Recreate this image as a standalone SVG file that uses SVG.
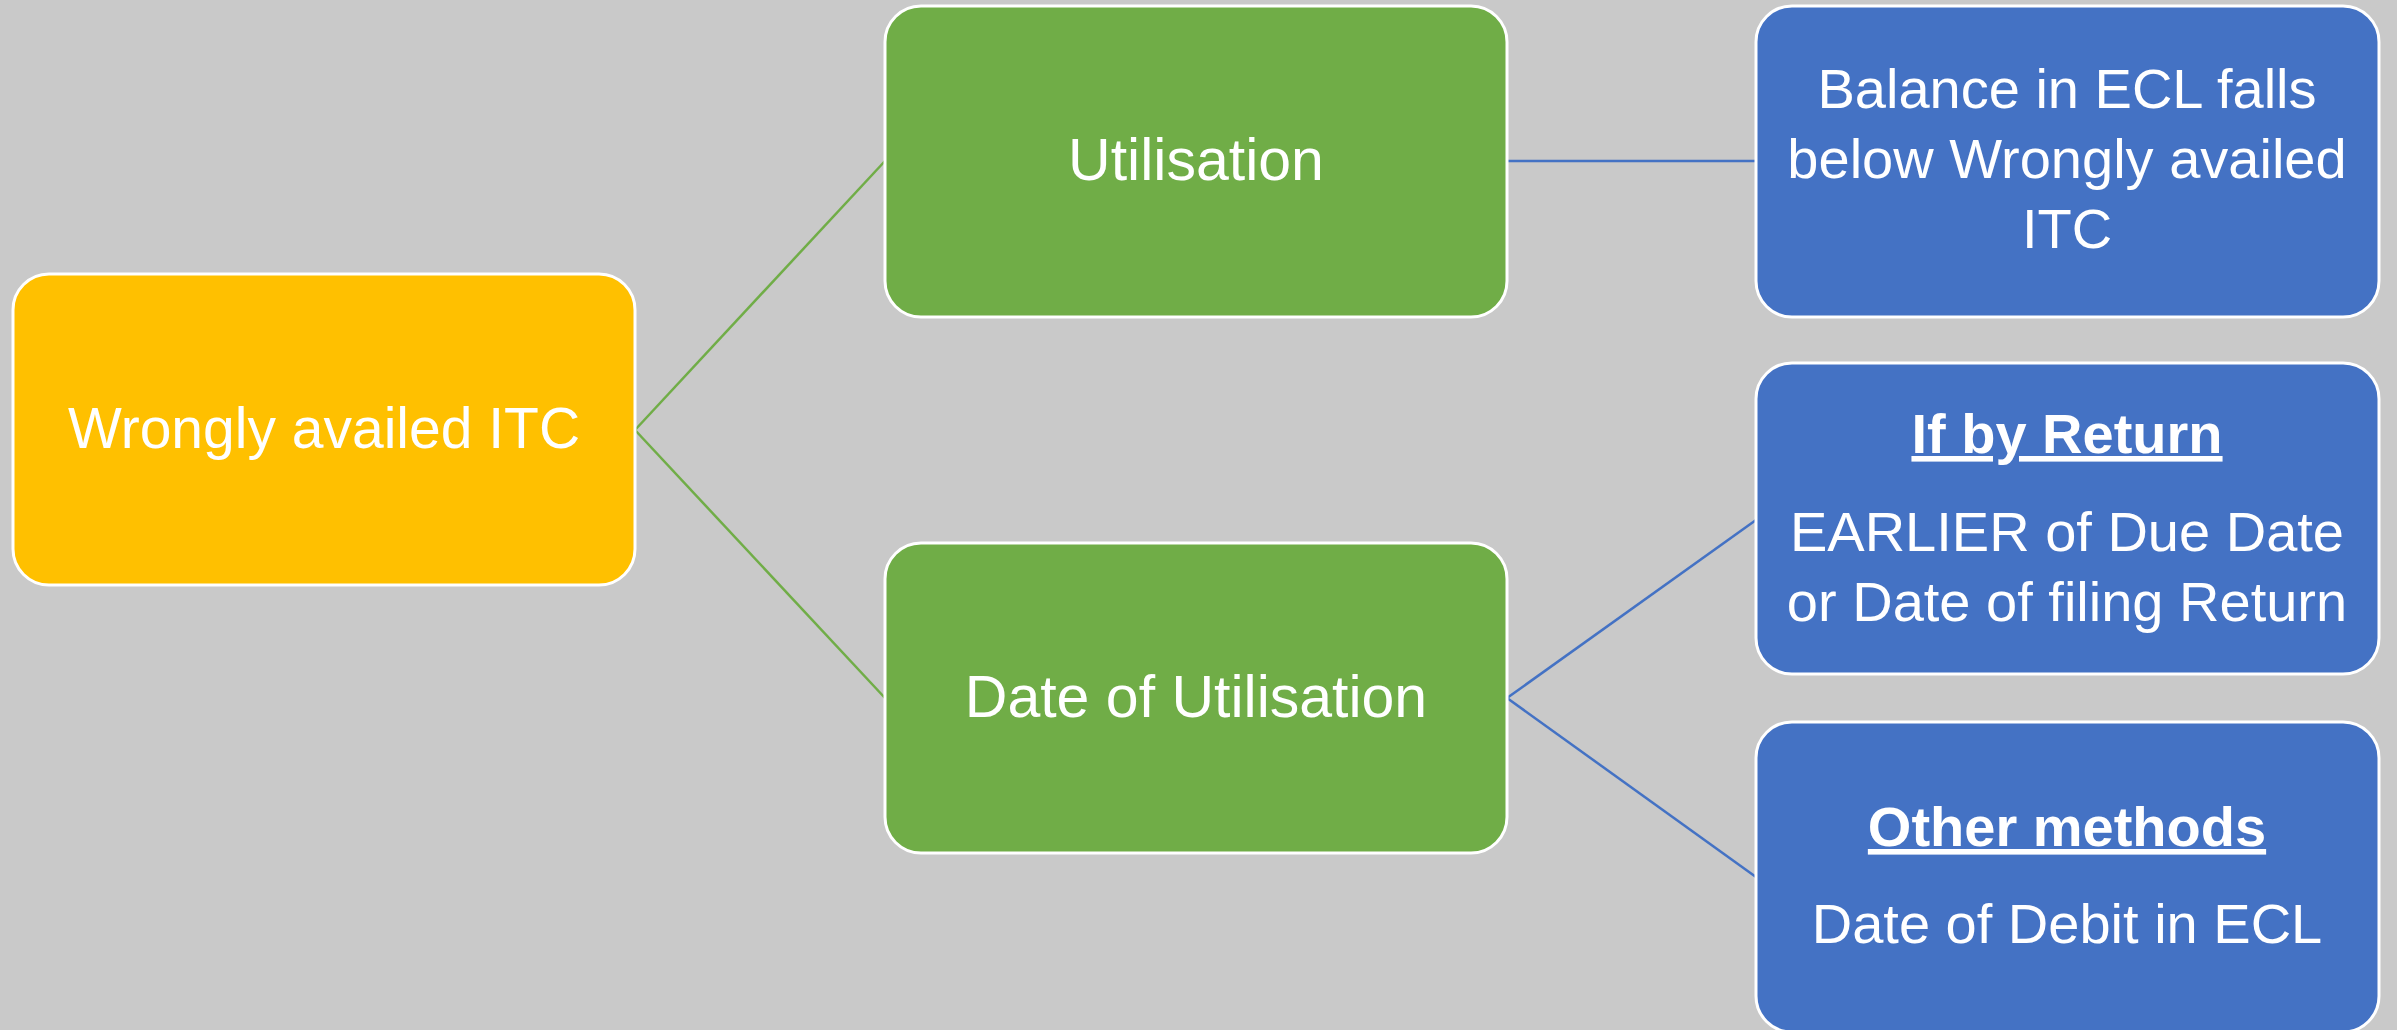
<svg xmlns="http://www.w3.org/2000/svg" width="2397" height="1030" viewBox="0 0 2397 1030">
<style>
.box{stroke:#FFFFFF;stroke-width:3}
.y{fill:#FFC000}
.g{fill:#70AD47}
.b{fill:#4472C4}
text{font-family:"Liberation Sans",Arial,sans-serif;fill:#FFFFFF;text-anchor:middle}
.t59{font-size:59px}
.t56{font-size:56px}
.h{font-size:56px;font-weight:bold;text-decoration:underline}
.cg{stroke:#70AD47;stroke-width:2.5;fill:none}
.cb{stroke:#4472C4;stroke-width:2.5;fill:none}
</style>
<rect width="2397" height="1030" fill="#C9C9C9"/>
<g id="connectors">
<line class="cg" x1="635" y1="430" x2="885" y2="161"/>
<line class="cg" x1="635" y1="430" x2="885" y2="698"/>
<line class="cb" x1="1507" y1="161" x2="1756" y2="161"/>
<line class="cb" x1="1507" y1="698" x2="1756" y2="520"/>
<line class="cb" x1="1507" y1="698" x2="1756" y2="877"/>
</g>
<g id="wrongly-availed-itc">
<rect class="box y" x="13" y="274" width="622" height="311" rx="36" ry="36"/>
<text class="t59" x="324" y="448" style="font-size:57px">Wrongly availed ITC</text>
</g>
<g id="utilisation">
<rect class="box g" x="885" y="6" width="622" height="311" rx="36" ry="36"/>
<text class="t59" x="1196" y="180">Utilisation</text>
</g>
<g id="date-of-utilisation">
<rect class="box g" x="885" y="543" width="622" height="310" rx="36" ry="36"/>
<text class="t59" x="1196" y="717">Date of Utilisation</text>
</g>
<g id="balance-in-ecl">
<rect class="box b" x="1756" y="6" width="623" height="311" rx="36" ry="36"/>
<text class="t56" x="2067" y="108">Balance in ECL falls</text>
<text class="t56" x="2067" y="178">below Wrongly availed</text>
<text class="t56" x="2067" y="248">ITC</text>
</g>
<g id="if-by-return">
<rect class="box b" x="1756" y="363" width="623" height="311" rx="36" ry="36"/>
<text class="h" x="2067" y="453">If by Return</text>
<text class="t56" x="2067" y="551">EARLIER of Due Date</text>
<text class="t56" x="2067" y="621">or Date of filing Return</text>
</g>
<g id="other-methods">
<rect class="box b" x="1756" y="722" width="623" height="310" rx="36" ry="36"/>
<text class="h" x="2067" y="846">Other methods</text>
<text class="t56" x="2067" y="943">Date of Debit in ECL</text>
</g>
</svg>
